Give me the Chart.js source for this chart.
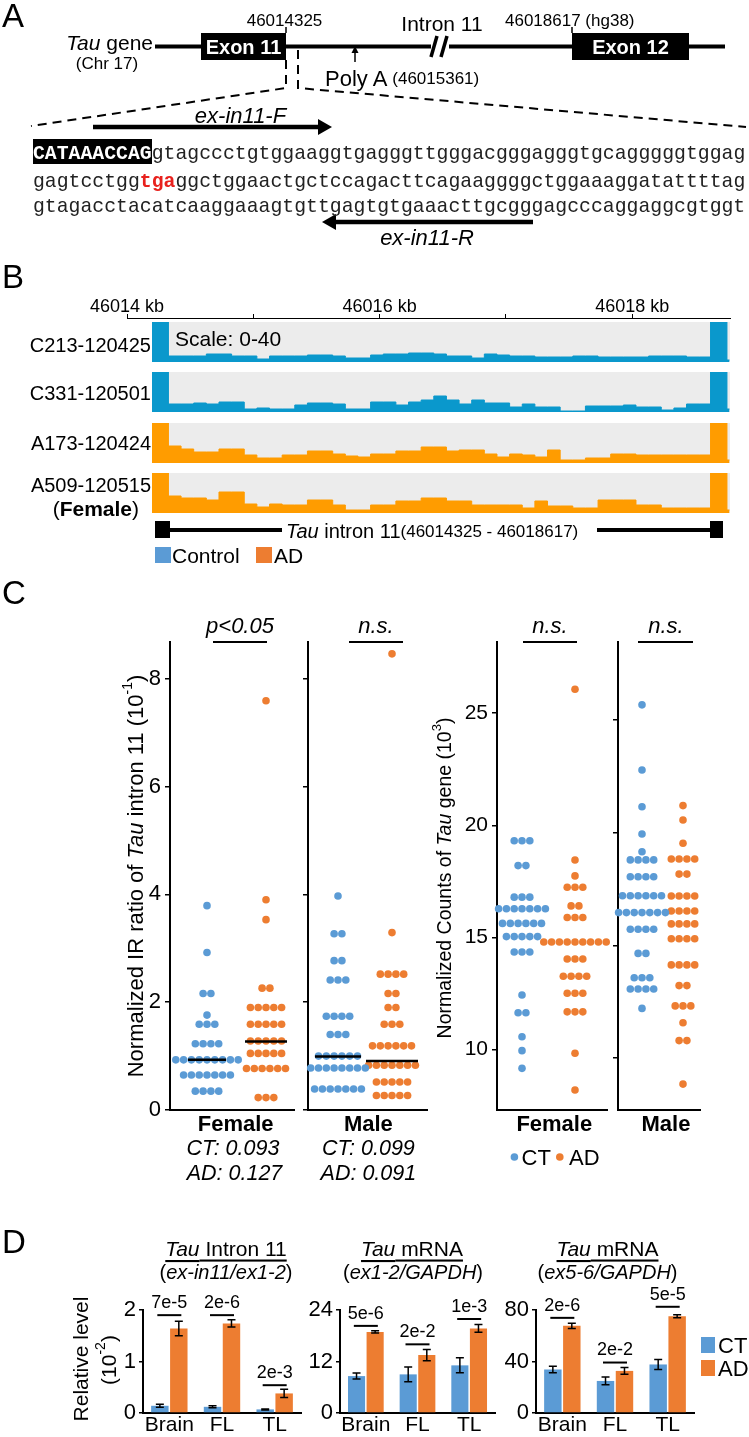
<!DOCTYPE html>
<html>
<head>
<meta charset="utf-8">
<title>Tau intron 11 retention</title>
<script src="https://cdn.jsdelivr.net/npm/chart.js@4.4.1/dist/chart.umd.min.js"></script>
<style>
  body { margin: 0; background: #fff; }
  #fig { position: relative; width: 749px; height: 1437px; overflow: hidden; background: #fff; }
  #fig canvas { position: absolute; }
  #fig canvas.track { background: #ececec; }
  #ann { position: absolute; left: 0; top: 0; pointer-events: none; }
</style>
</head>
<body>
<div id="fig">
<svg id="ann" width="749" height="1437" viewBox="0 0 749 1437" font-family="'Liberation Sans', Arial, sans-serif" fill="#000">
  <!-- panel letters -->
  <g font-size="33" dominant-baseline="central">
    <text x="2" y="15">A</text>
    <text x="2" y="276">B</text>
    <text x="2" y="592">C</text>
    <text x="2" y="1241">D</text>
  </g>

  <!-- A: gene model -->
  <g stroke="#000" stroke-width="4">
    <line x1="155" y1="46.5" x2="431" y2="46.5"/>
    <line x1="449" y1="46.5" x2="725" y2="46.5"/>
    <line x1="431" y1="57" x2="437" y2="36" stroke-width="3.5"/>
    <line x1="441" y1="57" x2="447" y2="36" stroke-width="3.5"/>
  </g>
  <rect x="201" y="33" width="85" height="27"/>
  <rect x="572" y="33" width="117" height="27"/>
  <g fill="#fff" font-weight="bold" font-size="20" text-anchor="middle" dominant-baseline="central">
    <text x="243.5" y="47">Exon 11</text>
    <text x="630.5" y="47">Exon 12</text>
  </g>
  <g stroke="#000" stroke-width="1.5">
    <line x1="286" y1="27" x2="286" y2="33"/>
    <line x1="572" y1="27" x2="572" y2="33"/>
    <line x1="355" y1="62" x2="355" y2="52"/>
  </g>
  <polygon points="351.5,53 355,46 358.5,53"/>
  <g dominant-baseline="central">
    <text x="284.5" y="20" font-size="17" text-anchor="middle">46014325</text>
    <text x="442" y="23" font-size="21" text-anchor="middle">Intron 11</text>
    <text x="505" y="20" font-size="17">46018617 (hg38)</text>
    <text x="153" y="42" font-size="21" text-anchor="end"><tspan font-style="italic">Tau</tspan> gene</text>
    <text x="107" y="63" font-size="17" text-anchor="middle">(Chr 17)</text>
    <text x="325" y="78" font-size="22">Poly A <tspan font-size="17">(46015361)</tspan></text>
    <text x="240.5" y="115" font-size="22" font-style="italic" text-anchor="middle">ex-in11-F</text>
    <text x="427" y="237" font-size="22" font-style="italic" text-anchor="middle">ex-in11-R</text>
  </g>
  <g stroke="#000" stroke-width="2" stroke-dasharray="9,6" fill="none">
    <polyline points="286,60 286,88 31,126"/>
    <polyline points="298,50 298,88 746,127"/>
  </g>
  <line x1="93" y1="127" x2="320" y2="127" stroke="#000" stroke-width="4.5"/>
  <polygon points="318,119 332,127 318,135"/>
  <line x1="334" y1="222" x2="533" y2="222" stroke="#000" stroke-width="4.5"/>
  <polygon points="336,214 322,222 336,230"/>

  <!-- A: sequence -->
  <rect x="33" y="139" width="119" height="25"/>
  <g font-family="'Liberation Mono', 'DejaVu Sans Mono', monospace" font-size="19.8" fill="#222">
    <text x="33" y="159"><tspan font-weight="bold" fill="#fff">CATAAACCAG</tspan>gtagccctgtggaaggtgagggttgggacgggagggtgcagggggtggag</text>
    <text x="33" y="187">gagtcctgg<tspan fill="#e8211d" font-weight="bold">tga</tspan>ggctggaactgctccagacttcagaaggggctggaaaggatattttag</text>
    <text x="33" y="212">gtagacctacatcaaggaaagtgttgagtgtgaaacttgcgggagcccaggaggcgtggt</text>
  </g>

  <!-- B: labels -->
  <g font-size="20" text-anchor="end" dominant-baseline="central">
    <text x="151" y="345">C213-120425</text>
    <text x="151" y="393">C331-120501</text>
    <text x="151" y="443">A173-120424</text>
    <text x="151" y="485">A509-120515</text>
    <text x="139" y="508" font-size="21">(<tspan font-weight="bold">Female</tspan>)</text>
  </g>
  <text x="175" y="338" font-size="21" dominant-baseline="central">Scale: 0-40</text>
  <rect x="155" y="521" width="15" height="17"/>
  <rect x="710" y="521" width="13" height="17"/>
  <g stroke="#000" stroke-width="4">
    <line x1="170" y1="530" x2="282" y2="530"/>
    <line x1="597" y1="530" x2="710" y2="530"/>
  </g>
  <text x="286" y="531" font-size="20" dominant-baseline="central"><tspan font-style="italic">Tau</tspan> intron 11<tspan font-size="17">(46014325 - 46018617)</tspan></text>
  <rect x="155" y="547" width="16" height="16" fill="#5b9bd5"/>
  <rect x="256" y="547" width="16" height="16" fill="#ed7d31"/>
  <g font-size="21" dominant-baseline="central">
    <text x="172" y="555">Control</text>
    <text x="274" y="555">AD</text>
  </g>

  <!-- C: annotations -->
  <g font-size="22" font-style="italic" text-anchor="middle" dominant-baseline="central">
    <text x="240" y="625">p&lt;0.05</text>
    <text x="376" y="625">n.s.</text>
    <text x="550" y="625">n.s.</text>
    <text x="666" y="625">n.s.</text>
  </g>
  <g font-size="22" font-weight="bold" text-anchor="middle" dominant-baseline="central">
    <text x="235.7" y="1123">Female</text>
    <text x="368.4" y="1123">Male</text>
    <text x="554.3" y="1123">Female</text>
    <text x="666" y="1123">Male</text>
  </g>
  <g font-size="21.5" font-style="italic" text-anchor="middle" dominant-baseline="central">
    <text x="233" y="1148">CT: 0.093</text>
    <text x="234.5" y="1173">AD: 0.127</text>
    <text x="368.4" y="1148">CT: 0.099</text>
    <text x="368.4" y="1173">AD: 0.091</text>
  </g>
  <text transform="translate(135,876) rotate(-90)" font-size="22" text-anchor="middle" dominant-baseline="central">Normalized IR ratio of <tspan font-style="italic">Tau</tspan> intron 11 (10<tspan font-size="14" baseline-shift="super">-1</tspan>)</text>
  <text transform="translate(444,878) rotate(-90)" font-size="19.5" text-anchor="middle" dominant-baseline="central">Normalized Counts of <tspan font-style="italic">Tau</tspan> gene (10<tspan font-size="13" baseline-shift="super">3</tspan>)</text>
  <circle cx="514.4" cy="1157" r="3.8" fill="#5b9bd5"/>
  <circle cx="559.8" cy="1157" r="3.8" fill="#ed7d31"/>
  <g font-size="22" dominant-baseline="central">
    <text x="521.5" y="1157">CT</text>
    <text x="569" y="1157">AD</text>
  </g>

  <!-- D: titles and legend -->
  <g font-size="21" text-anchor="middle" dominant-baseline="central">
    <text x="226" y="1248" text-decoration="underline"><tspan font-style="italic">Tau</tspan> Intron 11</text>
    <text x="412" y="1248" text-decoration="underline"><tspan font-style="italic">Tau</tspan> mRNA</text>
    <text x="607.5" y="1248" text-decoration="underline"><tspan font-style="italic">Tau</tspan> mRNA</text>
  </g>
  <g font-size="20" text-anchor="middle" dominant-baseline="central">
    <text x="226" y="1272">(<tspan font-style="italic">ex-in11/ex1-2</tspan>)</text>
    <text x="413" y="1272">(<tspan font-style="italic">ex1-2/GAPDH</tspan>)</text>
    <text x="607.5" y="1272">(<tspan font-style="italic">ex5-6/GAPDH</tspan>)</text>
  </g>
  <text transform="translate(80,1359) rotate(-90)" font-size="21" text-anchor="middle" dominant-baseline="central">Relative level</text>
  <text transform="translate(108,1360) rotate(-90)" font-size="21" text-anchor="middle" dominant-baseline="central">(10<tspan font-size="14" baseline-shift="super">-2</tspan>)</text>
  <rect x="701" y="1337" width="14" height="16" fill="#5b9bd5"/>
  <rect x="701" y="1360" width="14" height="16" fill="#ed7d31"/>
  <g font-size="22" dominant-baseline="central">
    <text x="718" y="1345">CT</text>
    <text x="718" y="1368">AD</text>
  </g>
</svg>
</div>

<script>
// ---- B: read coverage along Tau intron 11 (scale 0-40) ----
const rulerMin = 46014, rulerMax = 46018.774;
const trackMin = 46014.2, trackMax = 46018.774;
// bin start positions (kb); last entry closes the final bin
const binStarts = [46014.20,
  46014.33, 46014.43, 46014.53, 46014.63, 46014.73, 46014.83, 46014.93,
  46015.03, 46015.13, 46015.23, 46015.33, 46015.43, 46015.53, 46015.63, 46015.73, 46015.83, 46015.93,
  46016.03, 46016.13, 46016.23, 46016.33, 46016.43, 46016.53, 46016.63, 46016.73, 46016.83, 46016.93,
  46017.03, 46017.13, 46017.23, 46017.33, 46017.43, 46017.53, 46017.63, 46017.73, 46017.83, 46017.93,
  46018.03, 46018.13, 46018.23, 46018.33, 46018.43, 46018.53,
  46018.62, 46018.75, 46018.77];
const covC213 = [40, 6,6,6,8,8,6,6,3,6,6,6,7,7,6,4,4,7,8,8,9,9,8,6,6,4,8,7,6,6,5,5,5,6,6,5,5,5,5,6,6,6,5,5, 40, 2];
const covC331 = [40, 8,8,9,8,10,10,3,4,3,3,7,9,9,8,3,3,10,10,7,10,12,16,12,8,12,9,9,5,8,5,5,1,1,6,6,6,7,5,5,2,4,8,8, 40, 3];
const covA173 = [40, 17,14,11,11,14,14,8,5,5,8,8,12,12,9,7,6,9,9,12,12,16,16,12,13,13,9,6,9,8,6,13,3,3,5,5,9,9,8,8,8,8,8,8, 40, 3];
const covA509 = [40, 17,15,15,13,21,21,9,6,9,8,8,13,13,8,3,3,8,8,12,12,15,15,12,12,8,8,8,8,5,12,7,7,5,5,13,13,13,8,8,5,5,5,5, 40, 3];

// ---- C: IR ratio (x10^-1), one entry per sample ----
const irFemaleCT = [3.79, 2.92, 2.16, 2.16, 1.76, 1.59, 1.59, 1.59, 1.23, 1.23, 1.23, 1.23,
  0.93, 0.93, 0.93, 0.93, 0.93, 0.93, 0.93, 0.93, 0.93,
  0.65, 0.65, 0.65, 0.65, 0.65, 0.65, 0.65, 0.35, 0.35, 0.35, 0.35];
const irFemaleAD = [7.59, 3.90, 3.53, 2.26, 2.26, 1.90, 1.90, 1.90, 1.90, 1.90,
  1.59, 1.59, 1.59, 1.59, 1.59, 1.28, 1.28, 1.28, 1.28, 1.28, 1.05, 1.05, 1.05, 1.05, 1.05,
  0.77, 0.77, 0.77, 0.77, 0.77, 0.77, 0.23, 0.23, 0.23];
const irMaleCT = [3.97, 3.27, 3.27, 2.77, 2.77, 2.41, 2.41, 2.41, 1.74, 1.74, 1.74, 1.74, 1.40, 1.40, 1.40,
  1.00, 1.00, 1.00, 1.00, 1.00, 1.00, 0.78, 0.78, 0.78, 0.78, 0.78, 0.78, 0.78, 0.78,
  0.39, 0.39, 0.39, 0.39, 0.39, 0.39, 0.39];
const irMaleAD = [8.46, 3.29, 2.52, 2.52, 2.52, 2.52, 2.16, 2.16, 1.90, 1.90, 1.59, 1.59, 1.59,
  1.19, 1.19, 1.19, 1.19, 1.19, 1.19, 0.83, 0.83, 0.83, 0.83, 0.83, 0.83, 0.83,
  0.52, 0.52, 0.52, 0.52, 0.52, 0.27, 0.27, 0.27, 0.27, 0.27];
const irMedians = [0.93, 1.27, 0.99, 0.91]; // F-CT, F-AD, M-CT, M-AD

// ---- C: normalized Tau counts (x10^3) ----
const cntFemaleCT = [19.31, 19.31, 19.31, 18.20, 18.20, 16.79, 16.79, 16.79,
  16.27, 16.27, 16.27, 16.27, 16.27, 16.27, 16.27, 15.62, 15.62, 15.62, 15.62, 15.62, 15.62,
  15.03, 15.03, 15.03, 15.03, 15.03, 14.34, 14.34, 14.34, 12.42, 11.63, 11.63, 10.56, 9.94, 9.15];
const cntFemaleAD = [26.07, 18.45, 17.74, 17.23, 17.23, 17.23, 16.40, 16.40, 15.88, 15.88, 15.88,
  14.79, 14.79, 14.79, 14.79, 14.79, 14.79, 14.79, 14.79, 14.79, 14.03, 14.03, 14.03,
  13.26, 13.26, 13.26, 13.26, 12.50, 12.50, 12.50, 11.67, 11.67, 11.67, 9.82, 8.18];
const cntMaleCT = [25.67, 22.78, 21.15, 19.94, 19.15, 18.79, 18.79, 18.79, 18.79, 18.04, 18.04, 18.04, 18.04,
  17.20, 17.20, 17.20, 17.20, 17.20, 17.20, 16.45, 16.45, 16.45, 16.45, 16.45, 16.45, 16.45,
  15.71, 15.71, 15.71, 15.71, 14.64, 14.64, 13.56, 13.56, 13.56, 13.06, 13.06, 13.06, 13.06, 12.20];
const cntMaleAD = [21.20, 20.56, 19.53, 18.83, 18.83, 18.83, 18.83, 18.16, 18.16,
  17.19, 17.19, 17.19, 17.19, 16.52, 16.52, 16.52, 16.52, 15.95, 15.95, 15.95, 15.95,
  15.29, 15.29, 15.29, 15.29, 14.13, 14.13, 14.13, 14.13, 13.21, 13.21, 12.31, 12.31, 12.31,
  11.56, 10.77, 10.77, 8.84];

// ---- D: qPCR relative levels ----
const regions = ['Brain', 'FL', 'TL'];
const intronCT = [0.14, 0.12, 0.07], intronCTErr = [0.03, 0.02, 0.01];
const intronAD = [1.64, 1.74, 0.38], intronADErr = [0.14, 0.07, 0.08];
const intronP = ['7e-5', '2e-6', '2e-3'], intronPLevel = [1.90, 1.90, 0.54];
const ex12CT = [8.6, 9.0, 11.1], ex12CTErr = [0.7, 1.7, 1.75];
const ex12AD = [18.9, 13.5, 19.7], ex12ADErr = [0.25, 1.3, 0.9];
const ex12P = ['5e-6', '2e-2', '1e-3'], ex12PLevel = [20.3, 16.0, 21.9];
const ex56CT = [33.8, 24.9, 37.7], ex56CTErr = [2.6, 3.0, 3.9];
const ex56AD = [67.7, 32.7, 75.2], ex56ADErr = [2.0, 2.6, 1.2];
const ex56P = ['2e-6', '2e-2', '5e-5'], ex56PLevel = [73.9, 39.2, 82.5];

const BLUE = '#5b9bd5', ORANGE = '#ed7d31';
const TRACK_BLUE = '#0a98cc', TRACK_ORANGE = '#ff9c00';
const FONT = "'Liberation Sans', Arial, sans-serif";
const DOT_R = 3.8, DOT_GAP = 7.8;

Chart.defaults.font.family = FONT;
Chart.defaults.color = '#000';

const fig = document.getElementById('fig');
const ann = document.getElementById('ann');
function addCanvas(left, top, w, h, cls) {
  const c = document.createElement('canvas');
  c.width = w; c.height = h;
  c.style.left = left + 'px'; c.style.top = top + 'px';
  c.style.width = w + 'px'; c.style.height = h + 'px';
  if (cls) c.className = cls;
  fig.insertBefore(c, ann);
  return c;
}
const base = {
  responsive: false, animation: false, events: [],
  plugins: { legend: { display: false }, tooltip: { enabled: false } }
};

// ruler above the tracks
new Chart(addCanvas(80, 292, 669, 30), {
  type: 'scatter',
  data: { datasets: [] },
  options: Object.assign({}, base, {
    layout: { padding: { left: 47, right: 19, top: 0, bottom: 0 } },
    scales: {
      x: {
        type: 'linear', position: 'top', min: rulerMin, max: rulerMax,
        afterFit: s => { s.height = 26; },
        ticks: { stepSize: 1, includeBounds: false, autoSkip: false, maxRotation: 0, padding: -2,
          font: { size: 18, lineHeight: 1 },
          callback: v => (v % 2 === 0 ? v + ' kb' : '') },
        grid: { display: true, drawOnChartArea: false, tickLength: 4, color: '#000', lineWidth: 1 },
        border: { display: true, color: '#000', width: 1 }
      },
      y: { display: false, min: 0, max: 1 }
    }
  })
});

function trackChart(top, values, color) {
  const pts = binStarts.map((x, i) => ({ x: x, y: values[Math.min(i, values.length - 1)] }));
  new Chart(addCanvas(152, top, 578, 40, 'track'), {
    type: 'line',
    data: { datasets: [{ data: pts, stepped: 'before', fill: 'origin', backgroundColor: color,
      borderColor: color, borderWidth: 1, pointRadius: 0 }] },
    options: Object.assign({}, base, {
      layout: { padding: 0 },
      scales: {
        x: { type: 'linear', display: false, min: trackMin, max: trackMax },
        y: { display: false, min: 0, max: 40 }
      }
    })
  });
}
trackChart(322, covC213, TRACK_BLUE);
trackChart(372, covC331, TRACK_BLUE);
trackChart(423, covA173, TRACK_ORANGE);
trackChart(473, covA509, TRACK_ORANGE);

// beeswarm: samples with equal value share a row
function swarm(values, center) {
  const rows = new Map();
  values.forEach(v => rows.set(v, (rows.get(v) || 0) + 1));
  const pts = [];
  rows.forEach((n, v) => {
    for (let i = 0; i < n; i++) pts.push({ x: center + (i - (n - 1) / 2) * DOT_GAP, y: v });
  });
  return pts;
}

function swarmChart(c) {
  const datasets = [];
  c.groups.forEach(g => datasets.push({
    type: 'line', data: [{ x: g.center - g.half, y: g.median }, { x: g.center + g.half, y: g.median }],
    borderColor: '#000', borderWidth: 2.5, pointRadius: 0, clip: false
  }));
  datasets.push({
    type: 'line', data: [{ x: c.sig[0], y: c.max }, { x: c.sig[1], y: c.max }],
    borderColor: '#000', borderWidth: 2, pointRadius: 0, clip: false
  });
  c.groups.forEach(g => datasets.push({
    data: swarm(g.values, g.center), backgroundColor: g.color, pointRadius: DOT_R,
    pointBorderWidth: 0, clip: false
  }));
  new Chart(addCanvas(c.left - c.axisW, 622, c.axisW + c.width + 8, 508), {
    type: 'scatter',
    data: { datasets: datasets },
    options: Object.assign({}, base, {
      layout: { padding: { top: 20, bottom: 20, left: 0, right: 8 } },
      scales: {
        x: { type: 'linear', min: 0, max: c.width, afterFit: s => { s.height = 0; },
          ticks: { display: false }, grid: { display: false, drawTicks: false },
          border: { display: true, color: '#000', width: 2 } },
        y: { min: c.min, max: c.max, afterFit: s => { s.width = c.axisW; },
          ticks: { display: c.labels, stepSize: c.step, includeBounds: false, padding: 4, font: { size: c.tickSize } },
          grid: { display: true, drawOnChartArea: false, tickLength: 5, color: '#000', lineWidth: 1.5 },
          border: { display: true, color: '#000', width: 2 } }
      }
    })
  });
}

swarmChart({ left: 170, width: 124, axisW: 40, labels: true, tickSize: 22, min: 0, max: 8.68, step: 2, sig: [43, 97],
  groups: [{ values: irFemaleCT, center: 37, color: BLUE, median: irMedians[0], half: 19 },
           { values: irFemaleAD, center: 96, color: ORANGE, median: irMedians[1], half: 21 }] });
swarmChart({ left: 308, width: 119, axisW: 10, labels: false, tickSize: 22, min: 0, max: 8.68, step: 2, sig: [41, 95],
  groups: [{ values: irMaleCT, center: 30, color: BLUE, median: irMedians[2], half: 23 },
           { values: irMaleAD, center: 84, color: ORANGE, median: irMedians[3], half: 26 }] });
swarmChart({ left: 497, width: 110, axisW: 40, labels: true, tickSize: 21, min: 7.29, max: 28.18, step: 5, sig: [26, 80],
  groups: [{ values: cntFemaleCT, center: 25, color: BLUE, half: 0 },
           { values: cntFemaleAD, center: 78, color: ORANGE, half: 0 }] });
swarmChart({ left: 618, width: 82, axisW: 10, labels: false, tickSize: 21, min: 7.69, max: 28.46, step: 5, sig: [20, 75],
  groups: [{ values: cntMaleCT, center: 24, color: BLUE, half: 0 },
           { values: cntMaleAD, center: 65, color: ORANGE, half: 0 }] });

// D: error bars and p-value marks
const errorBars = {
  id: 'errorBars',
  afterDatasetsDraw(chart) {
    const ctx = chart.ctx, y = chart.scales.y;
    ctx.save();
    ctx.strokeStyle = '#000'; ctx.lineWidth = 1.5;
    chart.data.datasets.forEach((ds, i) => {
      chart.getDatasetMeta(i).data.forEach((bar, j) => {
        const top = y.getPixelForValue(ds.data[j] + ds.errors[j]);
        const bot = y.getPixelForValue(ds.data[j] - ds.errors[j]);
        ctx.beginPath();
        ctx.moveTo(bar.x, top); ctx.lineTo(bar.x, bot);
        ctx.moveTo(bar.x - 4, top); ctx.lineTo(bar.x + 4, top);
        ctx.moveTo(bar.x - 4, bot); ctx.lineTo(bar.x + 4, bot);
        ctx.stroke();
      });
    });
    ctx.restore();
  }
};
const sigMarks = {
  id: 'sigMarks',
  afterDatasetsDraw(chart, args, opts) {
    const ctx = chart.ctx, x = chart.scales.x, y = chart.scales.y;
    ctx.save();
    ctx.strokeStyle = '#000'; ctx.fillStyle = '#000'; ctx.lineWidth = 2;
    ctx.font = '18px ' + FONT; ctx.textAlign = 'center'; ctx.textBaseline = 'middle';
    opts.labels.forEach((lab, j) => {
      const cx = x.getPixelForValue(j), py = y.getPixelForValue(opts.levels[j]);
      ctx.beginPath(); ctx.moveTo(cx - 12, py); ctx.lineTo(cx + 12, py); ctx.stroke();
      ctx.fillText(lab, cx, py - 12);
    });
    ctx.restore();
  }
};

function barChart(left, width, c) {
  new Chart(addCanvas(left - 34, 1284, 34 + width + 6, 153), {
    type: 'bar',
    data: {
      labels: regions,
      datasets: [
        { data: c.ct, errors: c.ctErr, backgroundColor: BLUE, categoryPercentage: 0.72, barPercentage: 0.92 },
        { data: c.ad, errors: c.adErr, backgroundColor: ORANGE, categoryPercentage: 0.72, barPercentage: 0.92 }
      ]
    },
    options: Object.assign({}, base, {
      layout: { padding: { top: 26, right: 6, left: 0, bottom: 0 } },
      plugins: { legend: { display: false }, tooltip: { enabled: false },
        sigMarks: { labels: c.p, levels: c.pLevel } },
      scales: {
        x: { afterFit: s => { s.height = 24; },
          ticks: { font: { size: 21 }, padding: 0, maxRotation: 0, minRotation: 0, autoSkip: false },
          grid: { display: false, drawTicks: false }, border: { color: '#000', width: 2 } },
        y: { min: 0, max: c.max, afterFit: s => { s.width = 34; },
          ticks: { stepSize: c.step, font: { size: 22 }, padding: 3 },
          grid: { drawOnChartArea: false, tickLength: 4, color: '#000', lineWidth: 1.5 },
          border: { color: '#000', width: 2 } }
      }
    }),
    plugins: [errorBars, sigMarks]
  });
}
barChart(143, 158, { ct: intronCT, ctErr: intronCTErr, ad: intronAD, adErr: intronADErr, p: intronP, pLevel: intronPLevel, max: 2, step: 1 });
barChart(340, 155, { ct: ex12CT, ctErr: ex12CTErr, ad: ex12AD, adErr: ex12ADErr, p: ex12P, pLevel: ex12PLevel, max: 24, step: 12 });
barChart(536, 158, { ct: ex56CT, ctErr: ex56CTErr, ad: ex56AD, adErr: ex56ADErr, p: ex56P, pLevel: ex56PLevel, max: 80, step: 40 });
</script>
</body>
</html>
